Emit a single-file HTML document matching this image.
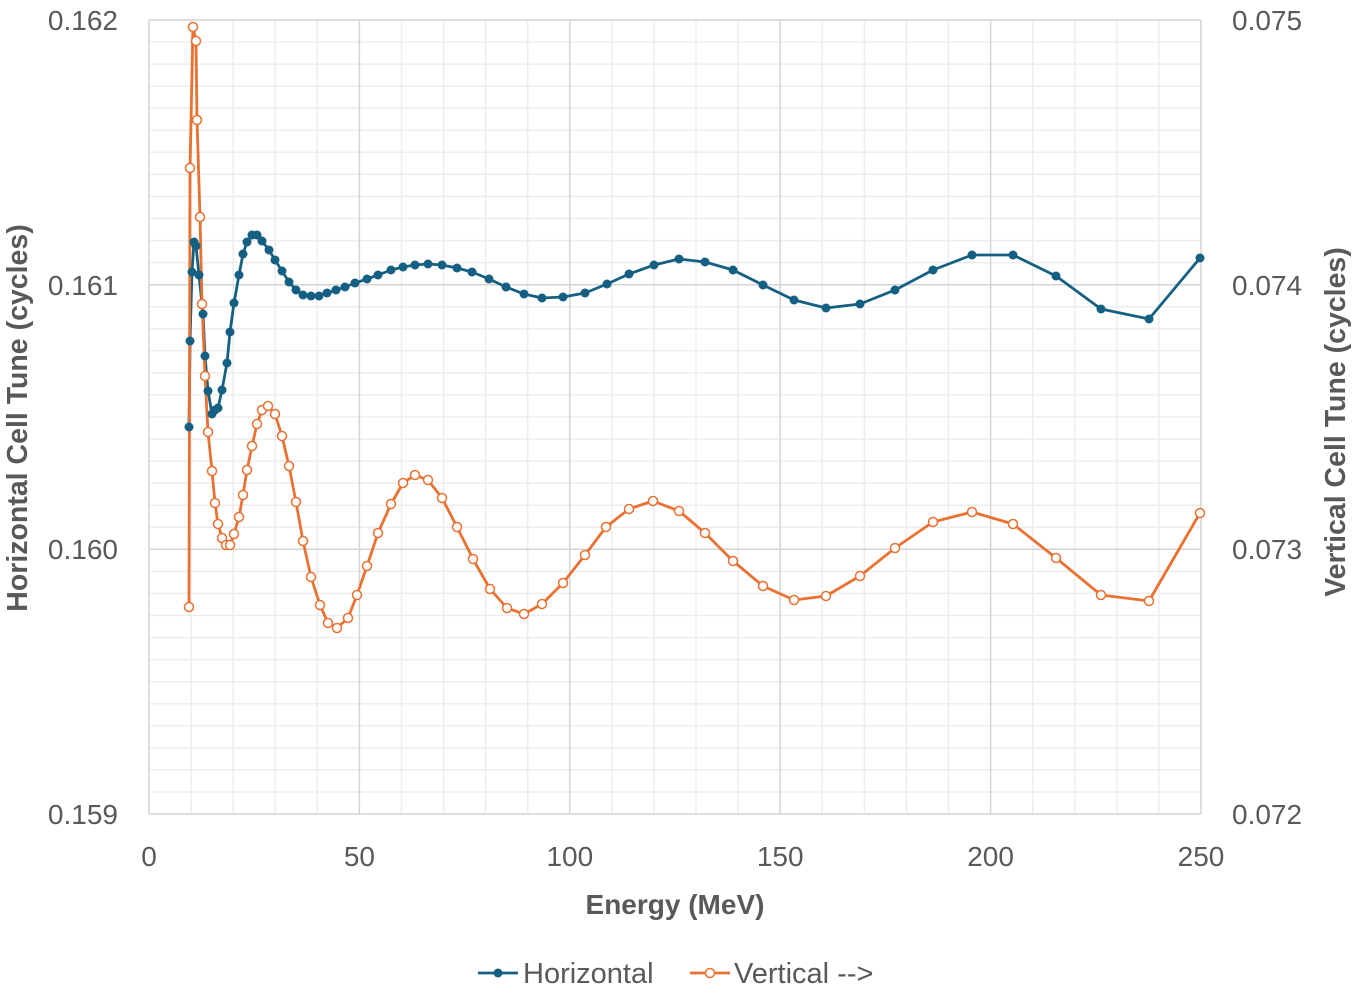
<!DOCTYPE html>
<html><head><meta charset="utf-8"><style>
body{margin:0;background:#fff;}
svg text{font-family:"Liberation Sans",sans-serif;fill:#595959;}
</style></head><body>
<svg width="1355" height="992" xmlns="http://www.w3.org/2000/svg">
<g stroke="#ededed" stroke-width="1.5">
<path d="M191.1 20V814M233.2 20V814M275.2 20V814M317.3 20V814M401.5 20V814M443.6 20V814M485.6 20V814M527.7 20V814M611.9 20V814M654 20V814M696 20V814M738.1 20V814M822.3 20V814M864.4 20V814M906.4 20V814M948.5 20V814M1032.7 20V814M1074.8 20V814M1116.8 20V814M1158.9 20V814"/>
<path d="M149 42H1201M149 64.1H1201M149 86.2H1201M149 108.2H1201M149 130.3H1201M149 152.3H1201M149 174.4H1201M149 196.5H1201M149 218.5H1201M149 240.6H1201M149 262.6H1201M149 306.7H1201M149 328.8H1201M149 350.8H1201M149 372.9H1201M149 394.9H1201M149 417H1201M149 439.1H1201M149 461.1H1201M149 483.2H1201M149 505.2H1201M149 527.3H1201M149 571.4H1201M149 593.4H1201M149 615.5H1201M149 637.6H1201M149 659.6H1201M149 681.7H1201M149 703.7H1201M149 725.8H1201M149 747.9H1201M149 769.9H1201M149 792H1201"/>
</g>
<g stroke="#d4d4d4" stroke-width="1.5">
<path d="M149 20H1201M149 284.7H1201M149 549.3H1201M359.4 20V814M569.8 20V814M780.2 20V814M990.6 20V814M1201 20V814"/>
<path d="M149 20V814M149 814H1201"/>
</g>
<polyline fill="none" stroke="#156082" stroke-width="2.8" stroke-linejoin="round" points="189,427 190,341 192,272 194,242 196,246 199,275 203,314 205,356 208,391 212,414 215,410 218,408 222,390 227,363 230,332 234,303 239,275 243,254 247,242 252,235 257,235 262,241 269,250 275,260 282,271 289,282 296,290 303,295 311,296 319,296 327,293 336,290 345,287 355,283 367,279 378,275 391,270 403,267 415,265 428,264 442,265 457,268 472,272 489,279 506,287 524,294 542,298 563,297 585,293 607,284 629,274 654,265 679,259 705,262 733,270 763,285 794,300 826,308 860,304 895,290 933,270 972,255 1013,255 1056,276 1101,309 1149,319 1200,258"/>
<polyline fill="none" stroke="#e97132" stroke-width="2.8" stroke-linejoin="round" points="189,607 190,168 193,27 196,41 197,120 200,217 202,304 205,376 208,432 212,471 215,503 218,524 222,538 226,545 230,545 234,534 239,517 243,495 247,470 252,446 257,424 262,410 268,406 275,414 282,436 289,466 296,502 303,541 311,577 320,605 328,623 337,628 348,618 357,595 367,566 378,533 391,504 403,483 415,475 428,480 442,498 457,527 473,559 490,589 507,608 524,614 542,604 563,583 585,555 606,527 629,509 653,501 679,511 705,533 733,561 763,586 794,600 826,596 860,576 895,548 933,522 972,512 1013,524 1056,558 1101,595 1149,601 1200,513"/>
<g id="bm" fill="#156082"></g>
<g id="om" fill="#fff" stroke="#e97132" stroke-width="1.5"></g>
<g font-size="28" text-anchor="end">
<text x="118" y="30">0.162</text><text x="118" y="295">0.161</text><text x="118" y="559">0.160</text><text x="118" y="824">0.159</text>
</g>
<g font-size="28" text-anchor="start">
<text x="1232" y="30">0.075</text><text x="1232" y="295">0.074</text><text x="1232" y="559">0.073</text><text x="1232" y="824">0.072</text>
</g>
<g font-size="28" text-anchor="middle">
<text x="149" y="866">0</text><text x="359.4" y="866">50</text><text x="569.8" y="866">100</text><text x="780.2" y="866">150</text><text x="990.6" y="866">200</text><text x="1201" y="866">250</text>
</g>
<text x="675" y="914" font-size="28" font-weight="bold" text-anchor="middle">Energy (MeV)</text>
<text transform="translate(27,418) rotate(-90)" font-size="28.5" font-weight="bold" text-anchor="middle">Horizontal Cell Tune (cycles)</text>
<text transform="translate(1345,422) rotate(-90)" font-size="28.5" font-weight="bold" text-anchor="middle">Vertical Cell Tune (cycles)</text>
<line x1="478" y1="973" x2="518" y2="973" stroke="#156082" stroke-width="2.8"/>
<circle cx="498" cy="973" r="4.5" fill="#156082"/>
<text x="523" y="983" font-size="29">Horizontal</text>
<line x1="690" y1="973" x2="730" y2="973" stroke="#e97132" stroke-width="2.8"/>
<circle cx="710" cy="973" r="4.5" fill="#fff" stroke="#e97132" stroke-width="1.5"/>
<text x="734" y="983" font-size="29">Vertical --&gt;</text>
</svg>
<script>
var b="189,427 190,341 192,272 194,242 196,246 199,275 203,314 205,356 208,391 212,414 215,410 218,408 222,390 227,363 230,332 234,303 239,275 243,254 247,242 252,235 257,235 262,241 269,250 275,260 282,271 289,282 296,290 303,295 311,296 319,296 327,293 336,290 345,287 355,283 367,279 378,275 391,270 403,267 415,265 428,264 442,265 457,268 472,272 489,279 506,287 524,294 542,298 563,297 585,293 607,284 629,274 654,265 679,259 705,262 733,270 763,285 794,300 826,308 860,304 895,290 933,270 972,255 1013,255 1056,276 1101,309 1149,319 1200,258";
var o="189,607 190,168 193,27 196,41 197,120 200,217 202,304 205,376 208,432 212,471 215,503 218,524 222,538 226,545 230,545 234,534 239,517 243,495 247,470 252,446 257,424 262,410 268,406 275,414 282,436 289,466 296,502 303,541 311,577 320,605 328,623 337,628 348,618 357,595 367,566 378,533 391,504 403,483 415,475 428,480 442,498 457,527 473,559 490,589 507,608 524,614 542,604 563,583 585,555 606,527 629,509 653,501 679,511 705,533 733,561 763,586 794,600 826,596 860,576 895,548 933,522 972,512 1013,524 1056,558 1101,595 1149,601 1200,513";
function m(s,id){var g=document.getElementById(id),h="";s.split(" ").forEach(function(p){var c=p.split(",");h+='<circle cx="'+c[0]+'" cy="'+c[1]+'" r="4.5"/>';});g.innerHTML=h;}
m(b,"bm");m(o,"om");
</script>
</body></html>
